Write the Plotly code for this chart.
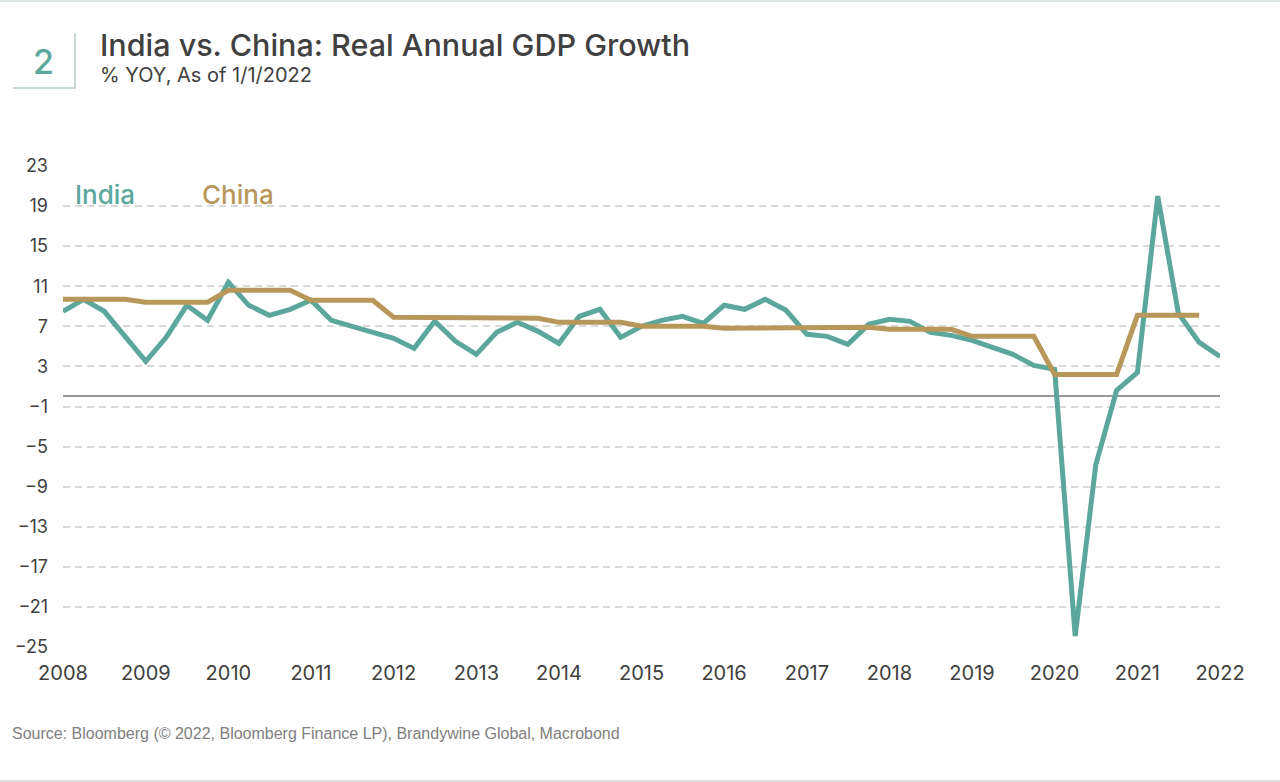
import plotly.graph_objects as go
import pandas as pd

# Quarterly observations, 2008Q1 .. 2022Q1 (plotted at quarter start)
quarters = pd.date_range("2008-01-01", periods=57, freq="QS")

india = [8.5, 9.7, 8.5, 6.0,
         3.5, 5.9, 9.1, 7.6,
         11.4, 9.1, 8.1, 8.7,
         9.6, 7.6, 7.0, 6.5,
         5.8, 4.8, 7.5, 5.5,
         4.2, 6.4, 7.4, 6.5,
         5.3, 8.0, 8.7, 5.9,
         7.0, 7.6, 8.0, 7.3,
         9.1, 8.7, 9.7, 8.6,
         6.2, 6.0, 5.2, 7.2,
         7.7, 7.5, 6.4, 6.1,
         5.6, 4.9, 4.2, 3.1,
         2.7, -23.9, -6.8, 0.6,
         2.4, 20.0, 8.3, 5.4,
         4.0]

china = [9.7, 9.7, 9.7, 9.7,
         9.4, 9.4, 9.4, 9.4,
         10.6, 10.6, 10.6, 10.6,
         9.6, 9.6, 9.6, 9.6,
         7.9, 7.9, 7.9, 7.9,
         7.8, 7.8, 7.8, 7.8,
         7.4, 7.4, 7.4, 7.4,
         7.0, 7.0, 7.0, 7.0,
         6.8, 6.8, 6.8, 6.8,
         6.9, 6.9, 6.9, 6.9,
         6.7, 6.7, 6.7, 6.7,
         6.0, 6.0, 6.0, 6.0,
         2.2, 2.2, 2.2, 2.2,
         8.1, 8.1, 8.1, 8.1]

year_ticks = ["2008-01-01", "2009-01-01", "2010-01-01", "2011-01-01", "2012-01-01",
              "2013-01-01", "2014-01-01", "2015-01-01", "2016-01-01", "2017-01-01",
              "2018-01-01", "2019-01-01", "2020-01-01", "2021-01-01", "2022-01-01"]
year_labels = ["2008", "2009", "2010", "2011", "2012", "2013", "2014", "2015",
               "2016", "2017", "2018", "2019", "2020", "2021", "2022"]
y_ticks = [-25, -21, -17, -13, -9, -5, -1, 3, 7, 11, 15, 19, 23]

INDIA_C = "#5BA79B"
CHINA_C = "#B8975A"
TEXT_C = "#404040"
FONT = "Inter"

fig = go.Figure()
fig.add_trace(go.Scatter(x=quarters, y=india, mode="lines", name="India",
                         line=dict(color=INDIA_C, width=5)))
fig.add_trace(go.Scatter(x=quarters[:len(china)], y=china, mode="lines", name="China",
                         line=dict(color=CHINA_C, width=5)))

W, H = 1280, 782
L, R, T, B = 63, 60, 166, 135
pw, ph = W - L - R, H - T - B

def px(x):
    return (x - L) / pw

def py(y):
    return 1 - (y - T) / ph

annotations = [
    dict(text="India vs. China: Real Annual GDP Growth", x=px(98), y=py(44),
         xanchor="left", yanchor="middle", showarrow=False,
         font=dict(family=FONT, size=30.5, color=TEXT_C, weight=500)),
    dict(text="% YOY, As of 1/1/2022", x=px(98), y=py(75),
         xanchor="left", yanchor="middle", showarrow=False,
         font=dict(family=FONT, size=20, color=TEXT_C)),
    dict(text="2", x=px(43), y=py(61), xanchor="center", yanchor="middle",
         showarrow=False, font=dict(family=FONT, size=34, color=INDIA_C, weight=500)),
    dict(text="India", x=px(73), y=py(194), xanchor="left", yanchor="middle",
         showarrow=False, font=dict(family=FONT, size=26, color=INDIA_C, weight=500)),
    dict(text="China", x=px(200), y=py(194), xanchor="left", yanchor="middle",
         showarrow=False, font=dict(family=FONT, size=26, color=CHINA_C, weight=500)),
    dict(text="Source: Bloomberg (© 2022, Bloomberg Finance LP), Brandywine Global, Macrobond",
         x=px(10), y=py(733), xanchor="left", yanchor="middle", showarrow=False,
         font=dict(family="Liberation Sans, Arial", size=16, color="#808080")),
]
for a in annotations:
    a["xref"] = "paper"
    a["yref"] = "paper"

shapes = [
    dict(type="line", xref="paper", yref="paper", x0=px(75), x1=px(75), y0=py(33), y1=py(88),
         line=dict(color="#C8D8D3", width=2)),
    dict(type="line", xref="paper", yref="paper", x0=px(13), x1=px(76), y0=py(88), y1=py(88),
         line=dict(color="#C8D8D3", width=2)),
    dict(type="line", xref="paper", yref="paper", x0=px(0), x1=px(W), y0=py(1), y1=py(1),
         line=dict(color="#DCE6E3", width=2)),
    dict(type="line", xref="paper", yref="paper", x0=px(0), x1=px(W), y0=py(781), y1=py(781),
         line=dict(color="#E0E0E0", width=2)),
]

fig.update_layout(
    width=W, height=H,
    margin=dict(l=L, r=R, t=T, b=B, pad=0),
    paper_bgcolor="white", plot_bgcolor="white",
    showlegend=False,
    annotations=annotations, shapes=shapes,
    font=dict(family=FONT, color=TEXT_C),
)
fig.update_xaxes(type="date", range=["2008-01-01", "2022-01-01"],
                 tickvals=year_ticks, ticktext=year_labels,
                 showgrid=False, showline=False, zeroline=False, ticks="",
                 ticklabelstandoff=12,
                 tickfont=dict(family=FONT, size=20, color=TEXT_C))
fig.update_yaxes(range=[-25, 23], tickvals=y_ticks,
                 showgrid=True, gridcolor="#D9D9D9", gridwidth=1.5, griddash="7px,5px",
                 zeroline=True, zerolinecolor="#999999", zerolinewidth=1.5,
                 showline=False, ticks="", ticklabelstandoff=14,
                 tickfont=dict(family=FONT, size=18, color=TEXT_C))

fig.write_html("out.html")
